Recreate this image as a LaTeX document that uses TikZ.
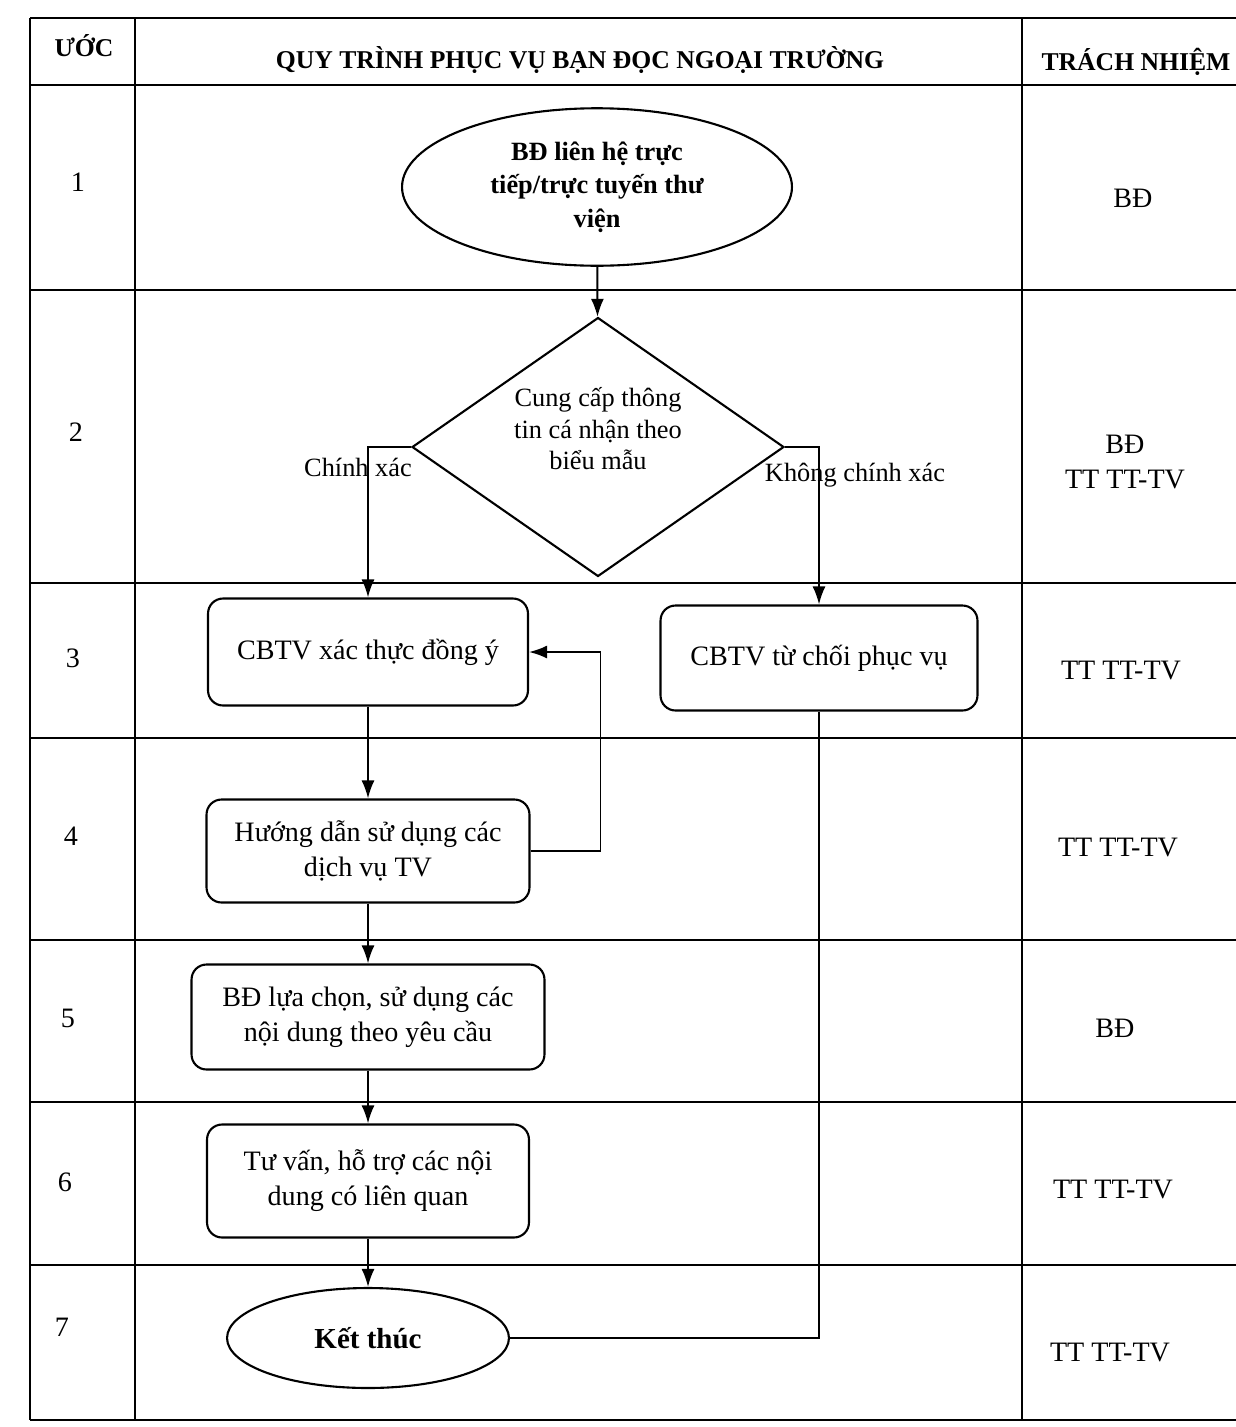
\documentclass[tikz,border=0pt]{standalone}
\usepackage{fontspec}
\setmainfont{Liberation Serif}
\usetikzlibrary{arrows.meta,shapes.geometric,positioning}

\begin{document}
\begin{tikzpicture}[x=0.02cm, y=-0.02cm,
            gridline/.style={line width=1.1pt},
            stepbox/.style={draw, line width=1.2pt, rounded corners=0.3cm, align=center, font=\fontsize{16}{20}\selectfont},
            terminal/.style={draw, ellipse, line width=1.2pt, align=center, inner sep=0pt, font=\bfseries\fontsize{15}{19}\selectfont},
            decision/.style={draw, diamond, aspect=1.44, line width=1.2pt, align=center, inner sep=0pt, font=\fontsize{15}{18}\selectfont},
            arrow/.style={-{Latex[length=3.6mm,width=2.6mm]}, line width=1.1pt},
            link/.style={line width=1.1pt},
            cell/.style={align=center, font=\fontsize{16}{20}\selectfont},
            head/.style={font=\bfseries\fontsize{14.6}{17}\selectfont}
        ]
        \useasboundingbox (0,0) rectangle (1236,1427);

        % Table grid
        \draw[gridline] (30,18) -- (1236,18);
        \draw[gridline] (30,85) -- (1236,85);
        \foreach \y in {290,583,738,940,1102,1265,1420}
            \draw[gridline] (30,\y) -- (1236,\y);
        \draw[gridline] (30,18) -- (30,1420);
        \draw[gridline] (135,18) -- (135,1420);
        \draw[gridline] (1022,18) -- (1022,1420);

        % Header
        \node[head] (h_step) at (84,46) {ƯỚC};
        \node[head] (h_proc) at (580,60) {QUY TRÌNH PHỤC VỤ BẠN ĐỌC NGOẠI TRƯỜNG};
        \node[head] (h_resp) at (1136,62) {TRÁCH NHIỆM};

        % Step numbers
        \node[cell] (n1) at (78,182) {1};
        \node[cell] (n2) at (76,432) {2};
        \node[cell] (n3) at (73,658) {3};
        \node[cell] (n4) at (71,836) {4};
        \node[cell] (n5) at (68,1018) {5};
        \node[cell] (n6) at (65,1182) {6};
        \node[cell] (n7) at (62,1327) {7};

        % Responsibility column
        \node[cell] (r1) at (1133,198) {BĐ};
        \node[cell] (r2) at (1125,462) {BĐ\\TT TT-TV};
        \node[cell] (r3) at (1121,670) {TT TT-TV};
        \node[cell] (r4) at (1118,847) {TT TT-TV};
        \node[cell] (r5) at (1115,1028) {BĐ};
        \node[cell] (r6) at (1113,1189) {TT TT-TV};
        \node[cell] (r7) at (1110,1352) {TT TT-TV};

        % Flow
        \node[terminal, minimum width=7.8cm, minimum height=3.15cm] (start) at (597,187) {BĐ liên hệ trực\\tiếp/trực tuyến thư\\viện};

        \node[decision, minimum width=7.44cm, minimum height=5.18cm] (check) at (598,447) {Cung cấp thông\\tin cá nhận theo\\biểu mẫu\\[0.1cm]};

        \node[stepbox, minimum width=6.4cm, minimum height=2.14cm] (verify) at (368,652) {CBTV xác thực đồng ý};

        \node[stepbox, minimum width=6.34cm, minimum height=2.1cm] (refuse) at (819,658) {CBTV từ chối phục vụ};

        \node[stepbox, minimum width=6.46cm, minimum height=2.06cm] (guide) at (368,851) {Hướng dẫn sử dụng các\\dịch vụ TV};

        \node[stepbox, minimum width=7.06cm, minimum height=2.1cm] (choose) at (368,1017) {BĐ lựa chọn, sử dụng các\\nội dung theo yêu cầu};

        \node[stepbox, minimum width=6.44cm, minimum height=2.26cm] (support) at (368,1181) {Tư vấn, hỗ trợ các nội\\dung có liên quan};

        \node[terminal, minimum width=5.64cm, minimum height=2cm, font=\bfseries\fontsize{16.5}{20}\selectfont] (finish) at (368,1338) {Kết thúc};

        % Arrows
        \draw[arrow] (start) -- (check);
        \draw[arrow] (check.west) -| (verify.north);
        \draw[arrow] (check.east) -| (refuse.north);
        \draw[arrow] (verify) -- (guide);
        \draw[arrow] (guide.east) -- ++(70,0) |- (verify.east);
        \draw[arrow] (guide) -- (choose);
        \draw[arrow] (choose) -- (support);
        \draw[arrow] (support) -- (finish);
        \draw[link] (refuse.south) |- (finish.east);

        % Branch labels
        \node[font=\fontsize{15}{18}\selectfont] (yes) at (358,467) {Chính xác};
        \node[font=\fontsize{15}{18}\selectfont] (no) at (855,475) {Không chính xác};

    \end{tikzpicture}
\end{document}
